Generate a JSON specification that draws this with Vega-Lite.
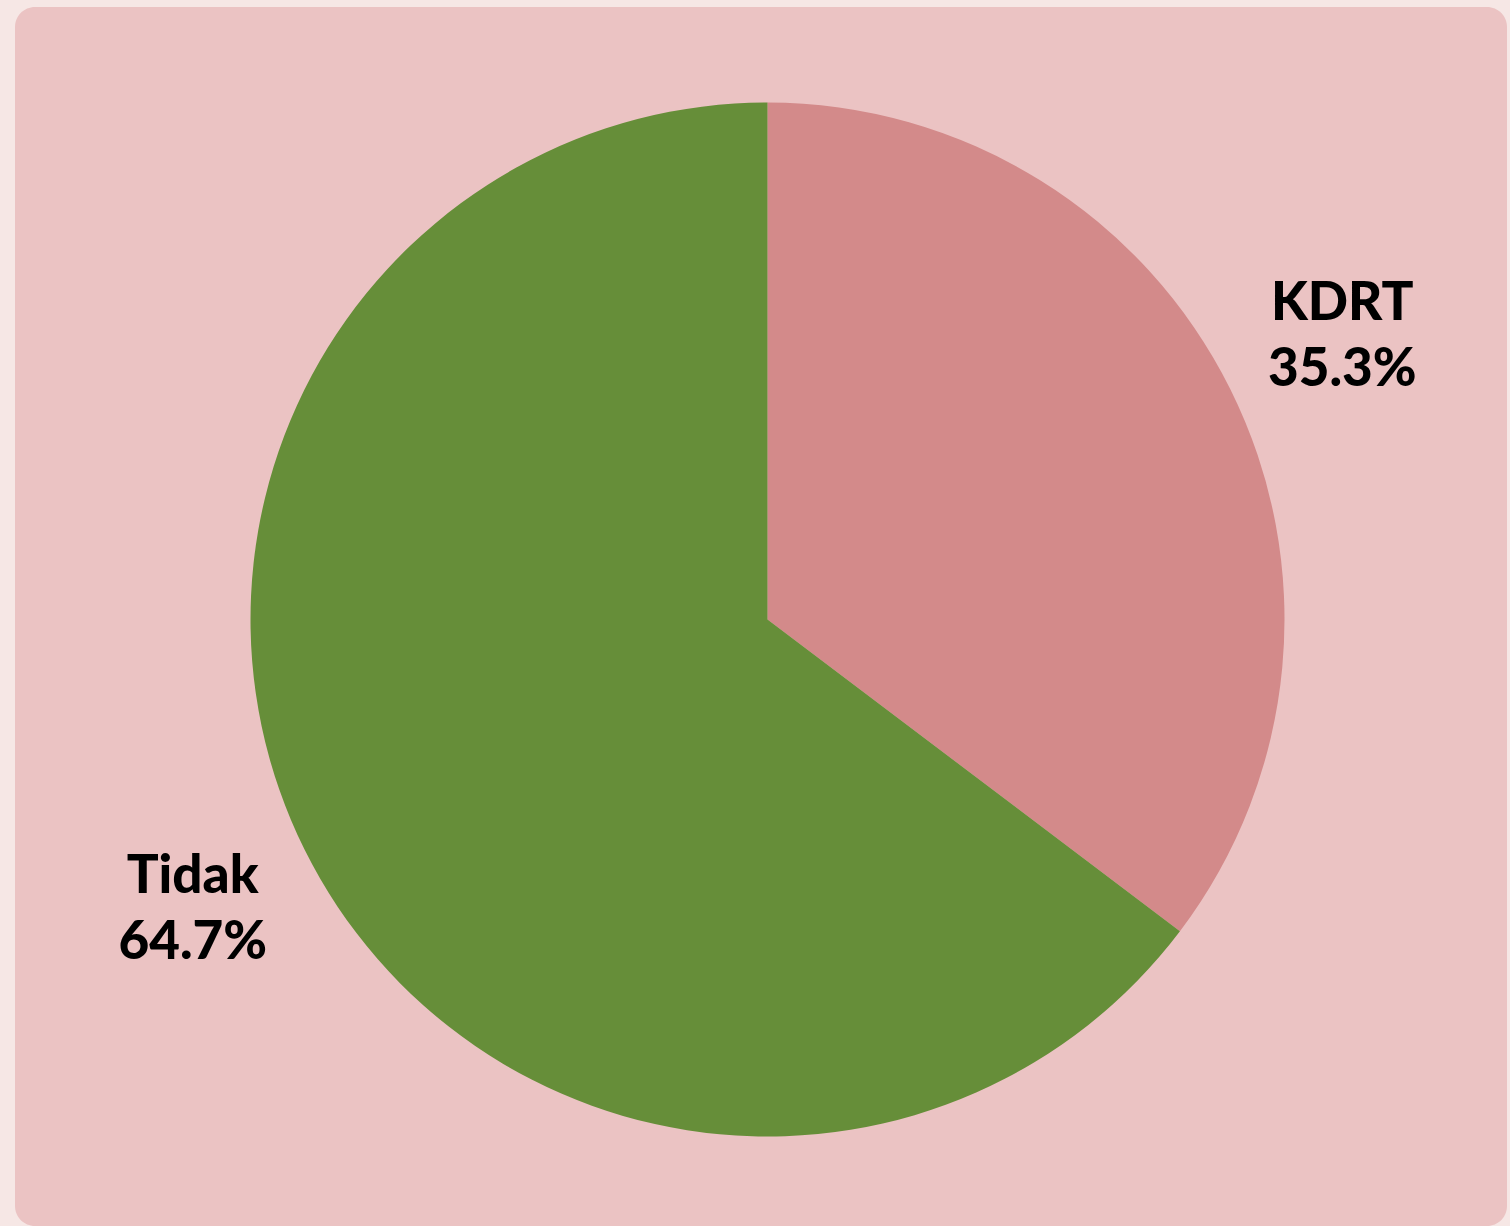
{
  "$schema": "https://vega.github.io/schema/vega-lite/v6.json",
  "autosize": {"type": "fit", "contains": "padding"},
  "width": 1510,
  "height": 1226,
  "padding": {"left": 15, "top": 7, "right": 3, "bottom": 0},
  "background": "#f6e7e5",
  "view": {"fill": "#ebc3c3", "stroke": null, "cornerRadius": 20},
  "data": {
    "values": [
      {"category": "KDRT", "value": 35.3, "label": "KDRT\n35.3%", "order": 1},
      {"category": "Tidak", "value": 64.7, "label": "Tidak\n64.7%", "order": 2}
    ]
  },
  "encoding": {
    "theta": {"field": "value", "type": "quantitative", "stack": true},
    "order": {"field": "order", "type": "quantitative"}
  },
  "layer": [
    {
      "mark": {"type": "arc", "radius": 517, "xOffset": 6.5, "yOffset": 3, "stroke": null},
      "encoding": {
        "color": {
          "field": "category",
          "type": "nominal",
          "scale": {"domain": ["KDRT", "Tidak"], "range": ["#d38a8a", "#668e39"]},
          "legend": null
        }
      }
    },
    {
      "mark": {
        "type": "text",
        "radius": 642,
        "xOffset": 6.5,
        "yOffset": 3,
        "dy": -29,
        "lineBreak": "\n",
        "lineHeight": 66,
        "fontSize": 53,
        "fontWeight": 900,
        "font": "Lato",
        "color": "#000000",
        "align": "center",
        "baseline": "middle"
      },
      "encoding": {
        "text": {"field": "label", "type": "nominal"}
      }
    }
  ]
}
